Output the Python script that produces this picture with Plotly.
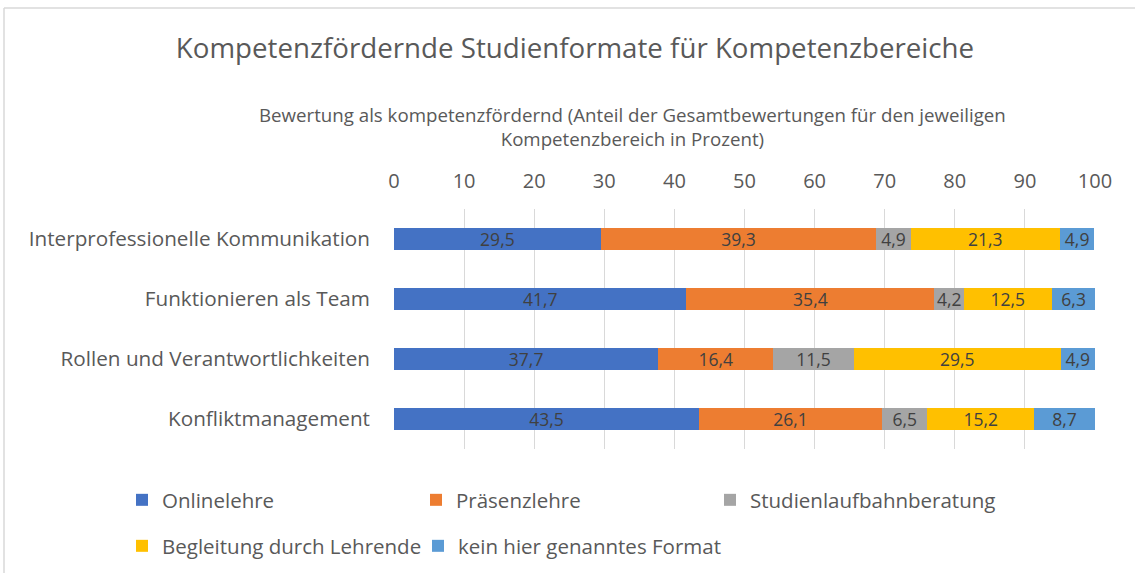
import plotly.graph_objects as go

categories = ["Interprofessionelle Kommunikation", "Funktionieren als Team",
              "Rollen und Verantwortlichkeiten", "Konfliktmanagement"]
series_names = ["Onlinelehre", "Präsenzlehre", "Studienlaufbahnberatung",
                "Begleitung durch Lehrende", "kein hier genanntes Format"]
onlinelehre = [29.5, 41.7, 37.7, 43.5]
praesenzlehre = [39.3, 35.4, 16.4, 26.1]
studienlaufbahn = [4.9, 4.2, 11.5, 6.5]
begleitung = [21.3, 12.5, 29.5, 15.2]
kein_format = [4.9, 6.3, 4.9, 8.7]
tick_values = [0, 10, 20, 30, 40, 50, 60, 70, 80, 90, 100]

values = [onlinelehre, praesenzlehre, studienlaufbahn, begleitung, kein_format]
colors = ["#4472C4", "#ED7D31", "#A5A5A5", "#FFC000", "#5B9BD5"]
legend_ids = ["legend", "legend", "legend", "legend2", "legend3"]

FONT = "Open Sans"
TXT = "#595959"

fig = go.Figure()
for name, vals, col, lg in zip(series_names, values, colors, legend_ids):
    fig.add_trace(go.Bar(
        y=categories, x=vals, name=name, orientation="h",
        marker=dict(color=col, line=dict(width=0)),
        text=[f"{v:.1f}".replace(".", ",") for v in vals],
        textposition="inside", insidetextanchor="middle",
        textfont=dict(color="#404040", size=17.5, family=FONT),
        width=0.38, legend=lg,
    ))

W, H = 1135, 573
L, R, T, B = 394, 40, 209, 124
pw, ph = W - L - R, H - T - B

def px_x(p):
    return (p - L) / pw

def px_y(p):
    return 1 - (p - T) / ph

legend_style = dict(orientation="h", xanchor="left", yanchor="top",
                    font=dict(size=20.5, color=TXT), traceorder="normal",
                    itemclick=False, bgcolor="rgba(0,0,0,0)")

fig.update_layout(
    width=W, height=H, barmode="stack", separators=",.",
    paper_bgcolor="white", plot_bgcolor="white",
    margin=dict(l=L, r=R, t=T, b=B, autoexpand=False),
    font=dict(family=FONT, color=TXT),
    uniformtext=dict(minsize=17, mode="show"),
    title=dict(text="Kompetenzfördernde Studienformate für Kompetenzbereiche",
               x=575 / W, xanchor="center", y=1 - 48 / H, yanchor="middle",
               font=dict(size=27.7, color=TXT, family=FONT)),
    xaxis=dict(range=[0, 100], side="top", tickvals=tick_values,
               tickfont=dict(size=20, color=TXT), showgrid=True,
               gridcolor="#D9D9D9", gridwidth=1, zeroline=False,
               showline=False, ticks="", ticklabelstandoff=16, fixedrange=True),
    yaxis=dict(categoryorder="array", categoryarray=categories[::-1],
               tickfont=dict(size=20.7, color=TXT), showgrid=False,
               ticks="", ticklabelstandoff=23, showline=False, fixedrange=True),
    legend=dict(x=px_x(122), y=px_y(480), entrywidth=249, **legend_style),
    legend2=dict(x=px_x(122), y=px_y(526), **legend_style),
    legend3=dict(x=px_x(418), y=px_y(526), **legend_style),
    showlegend=True,
)

fig.add_annotation(
    text="Bewertung als kompetenzfördernd (Anteil der Gesamtbewertungen für den jeweiligen<br>Kompetenzbereich in Prozent)",
    xref="paper", yref="paper", x=px_x(632), y=px_y(126), xanchor="center",
    yanchor="middle", showarrow=False, align="center",
    font=dict(size=18.7, color=TXT, family=FONT))

# chart border (top and left edges visible in the crop)
fig.add_shape(type="line", xref="paper", yref="paper",
              x0=px_x(4), x1=px_x(1140), y0=px_y(8), y1=px_y(8),
              line=dict(color="#D9D9D9", width=1.5))
fig.add_shape(type="line", xref="paper", yref="paper",
              x0=px_x(4), x1=px_x(4), y0=px_y(8), y1=px_y(580),
              line=dict(color="#D9D9D9", width=1.5))

fig.write_html("out.html", config={"displayModeBar": False},
               post_script="document.body.style.margin='0';document.body.style.overflow='hidden';")
